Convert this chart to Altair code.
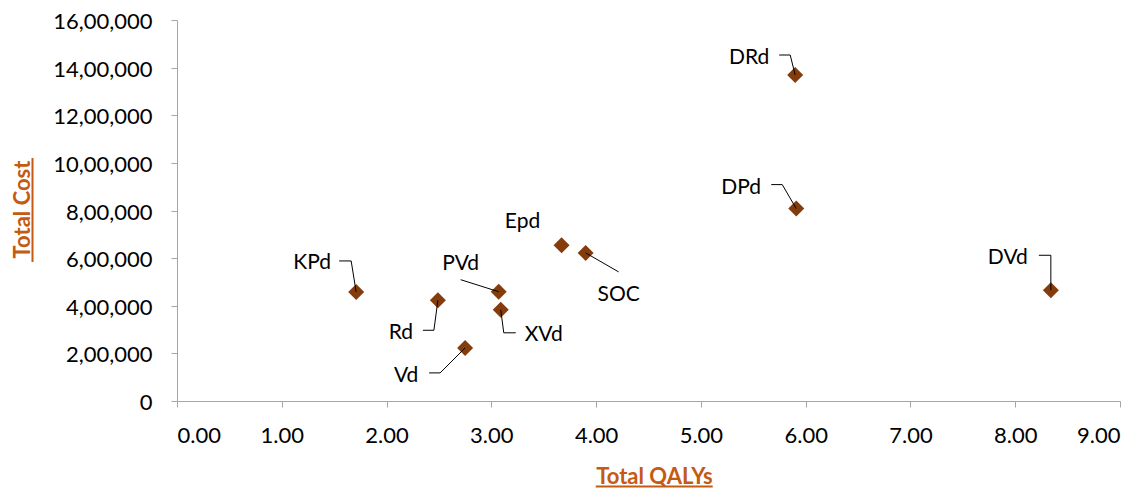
import altair as alt
import pandas as pd

# ---- data ----
strategies = ["KPd", "Rd", "PVd", "XVd", "Vd", "Epd", "SOC", "DRd", "DPd", "DVd"]
total_qalys = [1.71, 2.49, 3.07, 3.09, 2.75, 3.67, 3.90, 5.90, 5.91, 8.34]
total_cost = [458000, 423000, 459000, 383000, 223000, 654000, 622000, 1369000, 808000, 465000]

x_ticks = [0, 1, 2, 3, 4, 5, 6, 7, 8, 9]
y_ticks = [0, 200000, 400000, 600000, 800000, 1000000, 1200000, 1400000, 1600000]

# ---- layout / styling ----
PLOT_W, PLOT_H = 943, 381
X_MAX, Y_MAX = 9, 1600000
FONT = "Lato"
TITLE_COLOR = "#C55A11"
MARKER_COLOR = "#843C0C"
AXIS_COLOR = "#A6A6A6"

# label placement: pixel offsets from each point (text centre / baseline)
label_offsets = {
    "KPd": (-44, -23), "Rd": (-37, 39), "PVd": (-38, -22), "XVd": (43, 31),
    "Vd": (-59, 34), "Epd": (-39, -17), "SOC": (33, 48), "DRd": (-46, -11),
    "DPd": (-55, -15), "DVd": (-43, -26),
}
# leader lines: pixel offsets from each point, drawn as polylines
leader_offsets = {
    "KPd": [(-17, -31), (-5, -31), (0, 0)],
    "Rd": [(-15, 30), (-4, 30), (0, 0)],
    "PVd": [(-38, -12), (0, 0)],
    "XVd": [(15, 23), (3, 23), (0, 0)],
    "Vd": [(-36, 25), (-25, 25), (0, 0)],
    "SOC": [(0, 0), (33, 19)],
    "DRd": [(-16, -20), (-5, -20), (0, 0)],
    "DPd": [(-25, -24), (-14, -24), (0, 0)],
    "DVd": [(-12, -35), (0, -35), (0, 0)],
}

def to_data(x, y, dx, dy):
    return x + dx * X_MAX / PLOT_W, y - dy * Y_MAX / PLOT_H

pts = pd.DataFrame({"name": strategies, "qaly": total_qalys, "cost": total_cost})

lab_rows = []
for n, x, y in zip(strategies, total_qalys, total_cost):
    dx, dy = label_offsets[n]
    lx, ly = to_data(x, y, dx, dy)
    lab_rows.append({"name": n, "lx": lx, "ly": ly})
labels = pd.DataFrame(lab_rows)

lead_rows = []
for n, x, y in zip(strategies, total_qalys, total_cost):
    if n not in leader_offsets:
        continue
    for i, (dx, dy) in enumerate(leader_offsets[n]):
        lx, ly = to_data(x, y, dx, dy)
        lead_rows.append({"name": n, "i": i, "lx": lx, "ly": ly})
leaders = pd.DataFrame(lead_rows)

y_label_expr = ("datum.value == 0 ? '0' : datum.value < 100000 ? format(datum.value, ',d') : "
                "format(floor(datum.value / 100000), 'd') + ',' + "
                "pad(format(floor((datum.value % 100000) / 1000), 'd'), 2, '0', 'left') + ',' + "
                "pad(format(datum.value % 1000, 'd'), 3, '0', 'left')")

x_scale = alt.Scale(domain=[0, X_MAX], nice=False, zero=True)
y_scale = alt.Scale(domain=[0, Y_MAX], nice=False, zero=True)

x_axis = alt.Axis(
    title="Total QALYs", values=x_ticks, format=".2f", grid=False,
    labelPadding=18, titleX=477, titleY=82, titleBaseline="alphabetic",
    titleAlign="center",
)
y_axis = alt.Axis(
    title="Total Cost", values=y_ticks, labelExpr=y_label_expr, grid=False,
    labelPadding=19, labelOffset=1.5, titleAngle=270, titleX=-148, titleY=189,
    titleBaseline="alphabetic", titleAlign="center",
)

points = alt.Chart(pts).mark_point(
    shape="diamond", filled=True, size=256, color=MARKER_COLOR, opacity=1
).encode(
    x=alt.X("qaly:Q", scale=x_scale, axis=x_axis),
    y=alt.Y("cost:Q", scale=y_scale, axis=y_axis),
)

lines = alt.Chart(leaders).mark_line(color="black", strokeWidth=1).encode(
    x=alt.X("lx:Q", scale=x_scale),
    y=alt.Y("ly:Q", scale=y_scale),
    detail="name:N",
    order="i:Q",
)

texts = alt.Chart(labels).mark_text(
    font=FONT, fontSize=21, color="black", align="center", baseline="alphabetic"
).encode(
    x=alt.X("lx:Q", scale=x_scale),
    y=alt.Y("ly:Q", scale=y_scale),
    text="name:N",
)

one = pd.DataFrame({"k": [0]})
underline_x = alt.Chart(one).mark_rule(color=TITLE_COLOR, strokeWidth=2).encode(
    x=alt.value(418.7), x2=alt.value(535.7), y=alt.value(466.5)
)
underline_y = alt.Chart(one).mark_rule(color=TITLE_COLOR, strokeWidth=2).encode(
    x=alt.value(-144.5), y=alt.value(138), y2=alt.value(242)
)

chart = alt.layer(points, lines, texts, underline_x, underline_y).properties(
    width=PLOT_W, height=PLOT_H,
    padding={"left": 177, "top": 20, "right": 27, "bottom": 87},
    autosize=alt.AutoSizeParams(type="none"),
).configure_view(stroke=None).configure_axis(
    labelFont=FONT, labelFontSize=22, labelColor="black",
    titleFont=FONT, titleFontSize=22, titleFontWeight="bold", titleColor=TITLE_COLOR,
    domainColor=AXIS_COLOR, tickColor=AXIS_COLOR, tickSize=6,
)

chart.save("out.html", embed_options={"renderer": "svg", "actions": False})
